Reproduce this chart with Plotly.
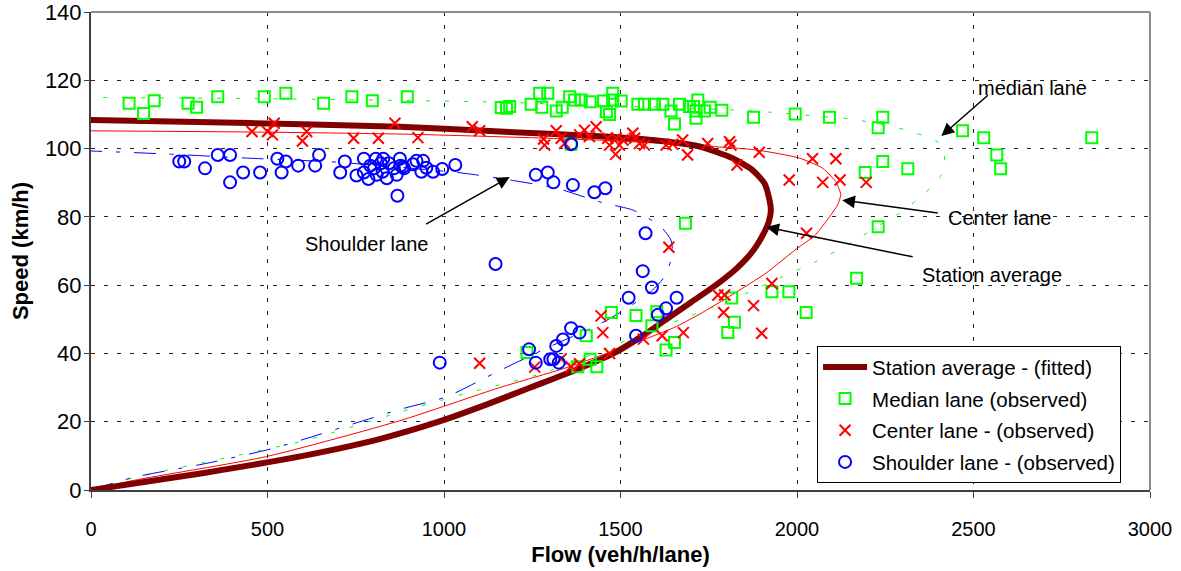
import plotly.graph_objects as go

# ---------------- data ----------------
median_flow = [108, 149, 179, 275, 299, 359, 491, 552, 659, 739, 797, 896,
               1162, 1177, 1186, 1247, 1271, 1294, 1277, 1318, 1335, 1356, 1370, 1389, 1414,
               1452, 1460, 1469, 1478, 1478, 1502, 1549, 1568, 1596, 1620, 1643, 1653, 1667,
               1695, 1719, 1714, 1707, 1738, 1754, 1714, 1787, 1877, 1995, 2092, 2243, 2230,
               2469, 2529, 2835, 2566, 2577, 2243, 2193, 2314, 2230, 2169, 1684, 1360,
               1815, 1929, 1977, 2026, 1823, 1804, 1474, 1544, 1603, 1589, 1403, 1235, 1414,
               1379, 1433, 1653, 1629]
median_speed = [113.3, 110.3, 114, 113.3, 112.1, 115.2, 115.2, 116.2, 113.3, 115.2, 114, 115.2,
                112, 111.8, 112.3, 113, 116.2, 116.2, 112.1, 111, 112.1, 115.2, 114.2, 114.2, 113.7,
                113.9, 110.8, 110, 116.2, 114.2, 113.9, 113, 113, 113, 113, 111, 107.2, 113,
                112.3, 114.2, 111, 112.3, 111, 112.1, 108.9, 111.2, 109.2, 110.1, 109.2, 109.2, 106.1,
                105.2, 103.2, 103.2, 98.1, 94.1, 96.2, 93, 94.1, 77.1, 62, 78.1, 101.3,
                56.2, 58.1, 58.1, 52, 49.1, 46.1, 52, 51.1, 52.2, 48.1, 45.2, 40.3, 38.3,
                36.1, 36.1, 43.2, 41]

center_flow = [456, 500, 519, 514, 611, 599, 744, 814, 861, 926, 1080, 1101, 1282, 1285, 1318,
               1332, 1342, 1384, 1398, 1412, 1431, 1464, 1469, 1486, 1488, 1497, 1507, 1535,
               1540, 1554, 1568, 1629, 1648, 1676, 1690, 1747, 1809, 1813, 1830, 1893, 1978,
               2044, 2110, 2073, 2122, 2196, 2027,
               1929, 1776, 1795, 1792, 1877, 1900, 1637, 1445, 1450, 1101, 1257, 1332, 1360,
               1384, 1469, 1565, 1618, 1678]
center_speed = [105, 105, 107.4, 104, 105, 102.2, 103, 103, 107.4, 103.2, 106.4, 105.2, 102.8, 101, 105.2,
                103, 101.5, 104, 105.4, 103.5, 106.4, 103, 101, 98.3, 103, 101, 102.5, 104.5,
                103, 101.5, 101, 101, 101.3, 102.5, 98.1, 101.5, 102, 101, 95.2, 98.9, 90.8,
                97, 97, 90.1, 90.8, 90.1, 75.2,
                60.5, 57.1, 57.1, 52, 54, 45.9, 71.1, 51, 46.1, 37.1, 36, 38.4, 36.1,
                37, 40, 44.2, 45.2, 46.1]

shoulder_flow = [250, 264, 323, 359, 394, 394, 431, 479, 528, 540, 552, 587, 635, 646, 706, 719,
                 752, 773, 773, 786, 791, 807, 802, 809, 821, 828, 826, 838, 844, 858, 866, 875,
                 877, 887, 868, 884, 912, 922, 941, 936, 950, 969, 995, 1032, 1260, 1294, 1310,
                 1365, 1426, 1457, 1360, 1571, 1146, 1563, 1589, 1659, 1523, 1629, 1606, 1360,
                 1384, 1337, 1318, 1544, 1241, 1260, 1301, 1310, 1325, 988]
shoulder_speed = [96.2, 96.2, 94.2, 98.1, 98.1, 90.1, 93, 93, 97, 93, 96.2, 95, 95, 98.1, 93, 96.2,
                  92.1, 97, 93, 91.1, 95, 97, 94.2, 92.3, 95.7, 97, 93.2, 91.3, 95.7, 94.2, 92.3, 97,
                  95, 94.2, 86.2, 94.7, 95.4, 96.4, 96.4, 93.2, 94.4, 93.2, 94, 95.2, 92.3, 93, 90.1,
                  89.3, 87.2, 88.4, 101.3, 75.2, 66.2, 64.1, 59.3, 56.3, 56.3, 53.2, 51.3, 47.4,
                  46.1, 44.1, 42.2, 45.2, 41.2, 37.3, 38.3, 38.3, 37.3, 37.3]

# fitted curves
station_fit_flow = [0, 320, 600, 820, 985, 1120, 1245, 1370, 1480, 1560, 1630, 1700, 1770, 1830,
                    1875, 1905, 1920, 1926, 1922, 1908, 1874, 1817, 1724, 1591, 1441, 1158, 875,
                    600, 300, 0]
station_fit_speed = [0, 5, 10, 15, 20, 25, 30, 35, 40, 45, 50, 55, 60, 65,
                     70, 75, 78.5, 82, 85, 89.8, 93.7, 97.2, 100.6, 102.5, 103.6, 105, 106.4,
                     107.1, 107.8, 108.4]

center_fit_flow = [0, 120, 497, 875, 1158, 1346, 1500, 1650, 1724, 1818, 1912, 1997, 2050, 2092,
                   2115, 2124, 2118, 2110, 2073, 2007, 1884, 1700, 1500, 1300, 900, 500, 0]
center_fit_speed = [0, 2.8, 9.8, 20.3, 30, 35.8, 41.5, 47.5, 51.5, 57.3, 63.5, 70.5, 74.5, 80,
                    83.5, 86.5, 88.5, 90.3, 94.2, 97.2, 99.6, 101, 102.2, 103, 104.2, 104.8, 105.2]

median_fit_flow = [0, 120, 610, 875, 1063, 1280, 1497, 1752, 1856, 1955, 2054, 2158, 2243, 2292,
                   2337, 2377, 2405, 2418, 2415, 2400, 2370, 2318, 2261, 2158, 2044, 1931, 1823,
                   1500, 1110, 500, 0]
median_fit_speed = [0, 3.6, 14.6, 22.8, 28.3, 34.2, 43, 53.2, 57.6, 62.3, 66.9, 72.7, 78.1, 81.2,
                    84.7, 88.4, 91.5, 95.5, 99.6, 101.8, 103.3, 105.2, 106.6, 108.6, 109.6, 110.6,
                    111.3, 112.5, 113.7, 114.6, 115]

shoulder_fit_flow = [0, 120, 327, 516, 875, 1007, 1158, 1300, 1445, 1530, 1590, 1625, 1643, 1647,
                     1643, 1620, 1580, 1535, 1441, 1318, 1186, 1054, 698, 443, 217, 0]
shoulder_fit_speed = [0, 3.7, 7.8, 12.2, 23.6, 27.3, 35, 42, 48.8, 54, 58.5, 62.5, 67.4, 70.5,
                      73.2, 76.5, 79.5, 82, 84.4, 88.4, 90.8, 92.8, 96, 97.2, 98.4, 99.3]

x_ticks = [0, 500, 1000, 1500, 2000, 2500, 3000]
y_ticks = [0, 20, 40, 60, 80, 100, 120, 140]

FONT = "Liberation Sans, Arial, sans-serif"

fig = go.Figure()

# lane fitted curves (not in legend)
fig.add_trace(go.Scatter(x=median_fit_flow, y=median_fit_speed, mode="lines",
                         line=dict(color="#00FF00", width=1, dash="4px,15px", shape="spline", smoothing=0.6),
                         showlegend=False, hoverinfo="skip"))
fig.add_trace(go.Scatter(x=shoulder_fit_flow, y=shoulder_fit_speed, mode="lines",
                         line=dict(color="#0000FF", width=1, dash="22px,14px,4px,14px", shape="spline", smoothing=0.6),
                         showlegend=False, hoverinfo="skip"))
fig.add_trace(go.Scatter(x=center_fit_flow, y=center_fit_speed, mode="lines",
                         line=dict(color="#FF0000", width=1, shape="spline", smoothing=0.6),
                         showlegend=False, hoverinfo="skip"))
fig.add_trace(go.Scatter(x=station_fit_flow, y=station_fit_speed, mode="lines",
                         name="Station average - (fitted)", legendgroup="g1",
                         line=dict(color="#800000", width=6, shape="spline", smoothing=0.6),
                         legendrank=1))

fig.add_trace(go.Scatter(x=median_flow, y=median_speed, mode="markers", name="Median lane (observed)",
                         legendgroup="g2",
                         marker=dict(symbol="square-open", size=11, color="#00FF00", line=dict(width=2)),
                         legendrank=2))
fig.add_trace(go.Scatter(x=center_flow, y=center_speed, mode="markers", name="Center lane - (observed)",
                         legendgroup="g3",
                         marker=dict(symbol="x-thin-open", size=11, color="#FF0000", line=dict(width=2, color="#FF0000")),
                         legendrank=3))
fig.add_trace(go.Scatter(x=shoulder_flow, y=shoulder_speed, mode="markers", name="Shoulder lane - (observed)",
                         legendgroup="g4",
                         marker=dict(symbol="circle-open", size=12, color="#0000FF", line=dict(width=2)),
                         legendrank=4))

# annotations: labels and arrows
labels = [("median lane", 2666, 117.7), ("Center lane", 2573, 79.7),
          ("Station average", 2553, 63), ("Shoulder lane", 781, 72)]
for txt, lx, ly in labels:
    fig.add_annotation(x=lx, y=ly, text=txt, showarrow=False,
                       font=dict(family=FONT, size=20, color="black"))

arrows = [((2545, 116), (2409, 103.7)), ((2403, 81.1), (2128, 84.9)),
          ((2332, 68.2), (1913, 77.0)), ((945, 77.6), (1186, 91.7))]
for (tx, ty), (hx, hy) in arrows:
    fig.add_annotation(x=hx, y=hy, ax=tx, ay=ty, axref="x", ayref="y", xref="x", yref="y",
                       text="", showarrow=True, arrowhead=2, arrowsize=1.7, arrowwidth=1.5,
                       arrowcolor="black", standoff=0, startstandoff=0)

# top & right frame lines (grey)
fig.add_shape(type="line", xref="paper", yref="paper", x0=0, x1=1, y0=1, y1=1,
              line=dict(color="#8c8c8c", width=2))
fig.add_shape(type="line", xref="paper", yref="paper", x0=1, x1=1, y0=0, y1=1,
              line=dict(color="#8c8c8c", width=2))

fig.update_layout(
    width=1181, height=571,
    margin=dict(l=91, r=31, t=12, b=81, autoexpand=False),
    paper_bgcolor="white", plot_bgcolor="white",
    font=dict(family=FONT, color="black"),
    legend=dict(x=0.6856, y=0.301, xanchor="left", yanchor="top",
                bgcolor="white", bordercolor="black", borderwidth=1,
                font=dict(family=FONT, size=20.5, color="black"),
                itemwidth=44, tracegroupgap=2),
    xaxis=dict(range=[0, 3000], tickvals=x_ticks, ticktext=[str(v) for v in x_ticks],
               automargin=False,
               showgrid=True, gridcolor="#222222", griddash="4px,9px", gridwidth=1,
               showline=True, linecolor="#404040", linewidth=2,
               ticks="outside", ticklen=6, tickcolor="#404040",
               tickfont=dict(family=FONT, size=20, color="black"),
               ticklabelstandoff=14,
               zeroline=False,
               title=dict(text="<b>Flow (veh/h/lane)</b>", font=dict(family=FONT, size=22, color="black"),
                          standoff=8)),
    yaxis=dict(range=[0, 140], tickvals=y_ticks, ticktext=[str(v) for v in y_ticks],
               automargin=False, ticklabeloverflow="allow",
               showgrid=True, gridcolor="#222222", griddash="4px,9px", gridwidth=1,
               showline=True, linecolor="#404040", linewidth=2,
               ticks="outside", ticklen=5, tickcolor="#404040",
               tickfont=dict(family=FONT, size=22, color="black"),
               ticklabelstandoff=-2,
               zeroline=False,
               title=dict(text="<b>Speed (km/h)</b>", font=dict(family=FONT, size=22, color="black"),
                          standoff=10)),
)

fig.write_html("out.html")
